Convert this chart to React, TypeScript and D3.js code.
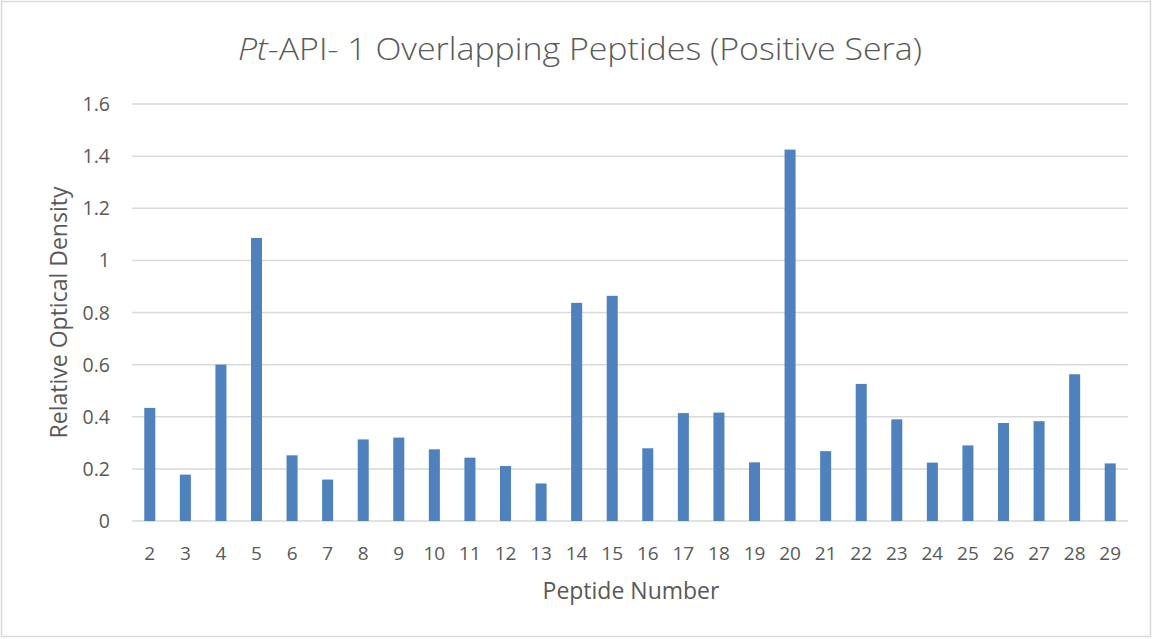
import React, { useEffect, useRef } from 'react';
import * as d3 from 'd3';

// Peptide numbers (x categories)
const PEPTIDES = [
  '2', '3', '4', '5', '6', '7', '8', '9', '10', '11', '12', '13', '14', '15',
  '16', '17', '18', '19', '20', '21', '22', '23', '24', '25', '26', '27', '28', '29',
];

// Relative optical density
const DENSITY = [
  0.434, 0.178, 0.6, 1.086, 0.252, 0.159, 0.313, 0.32, 0.275, 0.243, 0.211, 0.144, 0.837, 0.864,
  0.279, 0.414, 0.416, 0.225, 1.425, 0.268, 0.526, 0.39, 0.224, 0.29, 0.376, 0.383, 0.563, 0.221,
];

const Y_TICKS = [0, 0.2, 0.4, 0.6, 0.8, 1, 1.2, 1.4, 1.6];

const WIDTH = 1153;
const HEIGHT = 639;
const FONT = '"Open Sans", sans-serif';
const TEXT_COLOR = '#595959';
const BAR_COLOR = '#4f81bd';
const GRID_COLOR = '#d9d9d9';

const App: React.FC = () => {
  const svgRef = useRef<SVGSVGElement>(null);

  useEffect(() => {
    document.body.style.margin = '0';
    if (!svgRef.current) return;

    const svg = d3.select(svgRef.current);
    svg.selectAll('*').remove();

    // plot area
    const margin = { top: 104, right: 25, bottom: 118, left: 132 };
    const innerWidth = WIDTH - margin.left - margin.right;
    const innerHeight = HEIGHT - margin.top - margin.bottom;

    const xScale = d3.scaleBand<string>()
      .domain(PEPTIDES)
      .range([0, innerWidth])
      .paddingInner(0.69)
      .paddingOuter(0.345);

    const yScale = d3.scaleLinear()
      .domain([0, 1.6])
      .range([innerHeight, 0]);

    // background + outer border
    svg.append('rect')
      .attr('x', 1.5)
      .attr('y', 1.5)
      .attr('width', WIDTH - 4)
      .attr('height', HEIGHT - 4)
      .attr('fill', '#ffffff')
      .attr('stroke', GRID_COLOR)
      .attr('stroke-width', 1.5);

    const g = svg.append('g')
      .attr('transform', `translate(${margin.left},${margin.top})`);

    // horizontal grid
    g.append('g')
      .selectAll('line')
      .data(Y_TICKS)
      .enter()
      .append('line')
      .attr('x1', 0)
      .attr('x2', innerWidth)
      .attr('y1', d => yScale(d))
      .attr('y2', d => yScale(d))
      .attr('stroke', GRID_COLOR)
      .attr('stroke-width', 1.5);

    // bars
    g.append('g')
      .selectAll('rect')
      .data(DENSITY)
      .enter()
      .append('rect')
      .attr('x', (_, i) => xScale(PEPTIDES[i]) ?? 0)
      .attr('y', d => yScale(d))
      .attr('width', xScale.bandwidth())
      .attr('height', d => innerHeight - yScale(d))
      .attr('fill', BAR_COLOR);

    // y tick labels
    g.append('g')
      .selectAll('text')
      .data(Y_TICKS)
      .enter()
      .append('text')
      .attr('x', -22)
      .attr('y', d => yScale(d))
      .attr('dy', '0.36em')
      .attr('text-anchor', 'end')
      .attr('fill', TEXT_COLOR)
      .attr('font-family', FONT)
      .attr('font-size', '19.5px')
      .text(d => String(d));

    // x tick labels
    g.append('g')
      .selectAll('text')
      .data(PEPTIDES)
      .enter()
      .append('text')
      .attr('x', d => (xScale(d) ?? 0) + xScale.bandwidth() / 2)
      .attr('y', innerHeight + 39)
      .attr('text-anchor', 'middle')
      .attr('fill', TEXT_COLOR)
      .attr('font-family', FONT)
      .attr('font-size', '19px')
      .text(d => d);

    // x axis title
    svg.append('text')
      .attr('x', 631)
      .attr('y', 599)
      .attr('text-anchor', 'middle')
      .attr('fill', TEXT_COLOR)
      .attr('font-family', FONT)
      .attr('font-size', '23px')
      .text('Peptide Number');

    // y axis title
    svg.append('text')
      .attr('transform', `translate(67,${margin.top + innerHeight / 2}) rotate(-90)`)
      .attr('text-anchor', 'middle')
      .attr('fill', TEXT_COLOR)
      .attr('font-family', FONT)
      .attr('font-size', '23px')
      .text('Relative Optical Density');

    // title, with italic "Pt"
    const title = svg.append('text')
      .attr('x', 580)
      .attr('y', 60)
      .attr('text-anchor', 'middle')
      .attr('fill', TEXT_COLOR)
      .attr('font-family', FONT)
      .attr('font-weight', 300)
      .attr('font-size', '32px')
      .attr('textLength', 684)
      .attr('lengthAdjust', 'spacingAndGlyphs');
    title.append('tspan').attr('font-style', 'italic').text('Pt');
    title.append('tspan').text('-API- 1 Overlapping Peptides (Positive Sera)');
  }, []);

  return (
    <svg
      ref={svgRef}
      width={WIDTH}
      height={HEIGHT}
      viewBox={`0 0 ${WIDTH} ${HEIGHT}`}
      style={{ display: 'block' }}
    />
  );
};

export default App;
